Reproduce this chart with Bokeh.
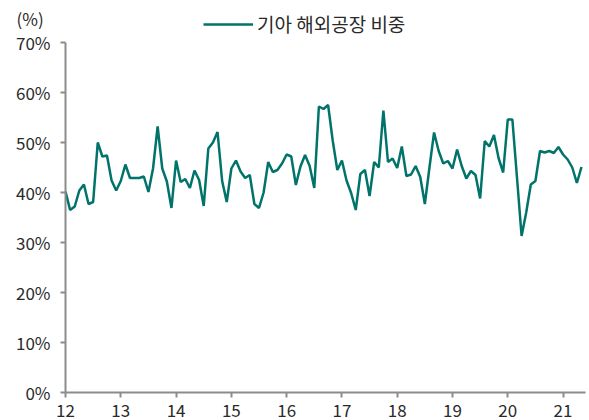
from bokeh.plotting import figure
from bokeh.models import ColumnDataSource, FixedTicker, Legend, LegendItem, Label, Range1d
from bokeh.embed import file_html
from bokeh.resources import INLINE

# Kia overseas plant share (%), monthly, Jan 2012 - May 2021
share_2012 = [40.2, 36.5, 37.2, 40.4, 41.6, 37.7, 38.1, 50.0, 47.2, 47.4, 42.4, 40.4]
share_2013 = [42.3, 45.6, 42.9, 42.9, 42.9, 43.2, 40.1, 44.8, 53.2, 44.8, 42.2, 36.9]
share_2014 = [46.4, 42.1, 42.7, 40.9, 44.4, 42.5, 37.3, 48.8, 50.0, 52.1, 42.3, 38.1]
share_2015 = [44.8, 46.4, 44.2, 42.9, 43.5, 37.7, 36.9, 40.0, 46.1, 44.1, 44.5, 45.8]
share_2016 = [47.6, 47.2, 41.5, 45.2, 47.5, 45.3, 40.9, 57.2, 56.7, 57.5, 50.4, 44.5]
share_2017 = [46.4, 42.4, 39.9, 36.5, 43.7, 44.5, 39.3, 46.1, 45.0, 56.4, 46.1, 46.8]
share_2018 = [44.9, 49.2, 43.3, 43.6, 45.3, 43.1, 37.7, 45.0, 52.0, 48.3, 45.8, 46.3]
share_2019 = [44.8, 48.6, 45.3, 42.8, 44.3, 43.5, 38.8, 50.3, 49.2, 51.5, 46.9, 44.0]
share_2020 = [54.6, 54.6, 43.0, 31.3, 36.0, 41.6, 42.3, 48.3, 48.0, 48.3, 47.9, 49.1]
share_2021 = [47.6, 46.6, 45.0, 41.9, 45.1]

year_labels = ["12", "13", "14", "15", "16", "17", "18", "19", "20", "21"]
y_ticks = [0, 10, 20, 30, 40, 50, 60, 70]
series_name = "기아 해외공장 비중"
unit_text = "(%)"

share = (share_2012 + share_2013 + share_2014 + share_2015 + share_2016 +
         share_2017 + share_2018 + share_2019 + share_2020 + share_2021)
month_idx = list(range(len(share)))
year_ticks = [12 * i for i in range(len(year_labels))]

FONT = "Noto Sans CJK KR"
LINE_COLOR = "#00736a"
AXIS_COLOR = "#8c8c8c"
TEXT_COLOR = "#2a2a2a"

W, H = 589, 420
src = ColumnDataSource(dict(m=month_idx, v=share))

# frame covers the whole canvas; axes are pinned at data 0 with bounds
p = figure(width=W, height=H, output_backend="svg", toolbar_location=None,
           x_range=Range1d(-14.11, 113.74), y_range=Range1d(-5.6, 78.4),
           min_border=0)
p.outline_line_color = None
p.grid.visible = False
p.background_fill_color = None
p.border_fill_color = "white"

r = p.line("m", "v", source=src, line_color=LINE_COLOR, line_width=2.5)

for ax in (p.xaxis[0], p.yaxis[0]):
    ax.axis_line_color = AXIS_COLOR
    ax.axis_line_width = 2
    ax.major_tick_line_color = AXIS_COLOR
    ax.major_tick_line_width = 2
    ax.major_tick_out = 5
    ax.major_tick_in = 0
    ax.minor_tick_line_color = None
    ax.major_label_text_font = FONT
    ax.major_label_text_font_size = "17px"
    ax.major_label_text_color = TEXT_COLOR
    ax.fixed_location = 0

p.xaxis.ticker = FixedTicker(ticks=year_ticks)
p.xaxis.major_label_overrides = {t: lab for t, lab in zip(year_ticks, year_labels)}
p.xaxis.major_label_standoff = 6
p.xaxis.bounds = (0, 112.9)

p.yaxis.ticker = FixedTicker(ticks=y_ticks)
p.yaxis.major_label_overrides = {t: f"{t}%" for t in y_ticks}
p.yaxis.major_label_standoff = 10
p.yaxis.bounds = (0, 70)

legend = Legend(items=[LegendItem(label=series_name, renderers=[r])],
                location=(203, 383), orientation="horizontal",
                glyph_width=50, glyph_height=20, label_height=20, label_standoff=4,
                label_text_font=FONT, label_text_font_size="19px",
                label_text_color=TEXT_COLOR, border_line_color=None,
                background_fill_alpha=0, padding=0, margin=0)
p.add_layout(legend, "center")

unit = Label(x=16, y=H - 18, x_units="screen", y_units="screen", text=unit_text,
             text_baseline="middle", text_font=FONT, text_font_size="17px",
             text_color=TEXT_COLOR)
p.add_layout(unit)

open("out.html", "w").write(file_html(p, INLINE))
